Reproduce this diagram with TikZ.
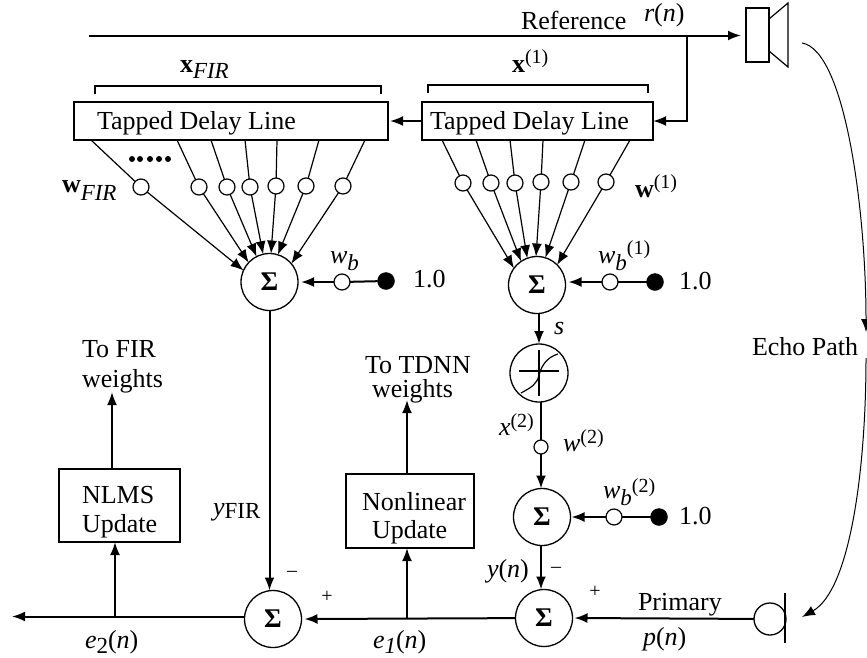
\documentclass[tikz,border=0pt]{standalone}
\usepackage{fontspec}
\setmainfont{Liberation Serif}
\usetikzlibrary{arrows.meta}
\newcommand\lowtxt[2][-7pt]{\raisebox{#1}{\fontsize{23}{23}\selectfont #2}}
\newcommand\uptxt[2][9pt]{\raisebox{#1}{\fontsize{20}{20}\selectfont #2}}
\tikzset{
  main/.style={line width=2pt},
  thin line/.style={line width=1.2pt},
  arr/.style={-{Latex[length=13pt,width=10pt]}},
  sumnode/.style={circle,draw,line width=1.3pt,minimum size=57pt,inner sep=0pt,outer sep=0pt,fill=white,font=\fontsize{27}{28}\selectfont\bfseries},
  weight/.style={circle,draw,line width=1.2pt,minimum size=16pt,inner sep=0pt,outer sep=0pt,fill=white},
  src/.style={circle,draw,fill=black,minimum size=17pt,inner sep=0pt,outer sep=0pt},
  dotn/.style={circle,fill=black,minimum size=6pt,inner sep=0pt},
  boxn/.style={rectangle,draw,line width=2pt,inner sep=0pt,outer sep=0pt,anchor=north west},
  lab/.style={inner sep=0pt,outer sep=0pt,anchor=base west},
  labc/.style={inner sep=0pt,outer sep=0pt,anchor=center}
}
\begin{document}
\begin{tikzpicture}[x=1pt,y=-1pt,font=\fontsize{26}{28}\selectfont]
\useasboundingbox (0,0) rectangle (867,657);
% boxes
\node[boxn,minimum width=314pt,minimum height=38pt] (tdl1) at (74,102) {};
\node[boxn,minimum width=231pt,minimum height=38pt] (tdl2) at (422,102) {};
\node[boxn,minimum width=121pt,minimum height=73pt] (nlms) at (59,469) {};
\node[boxn,minimum width=128pt,minimum height=74pt] (nonlin) at (346,474) {};
\node[lab] (ttdl1) at (97,129) {Tapped Delay Line};
\node[lab] (ttdl2) at (430,129) {Tapped Delay Line};
\node[lab] (tnlms1) at (82,503) {NLMS};
\node[lab] (tnlms2) at (82,532) {Update};
\node[lab] (tnl1) at (362,510) {Nonlinear};
\node[lab] (tnl2) at (372,538) {Update};
% sums
\node[sumnode] (s1) at (269.5,282) {Σ};
\node[sumnode] (s2) at (537,285) {Σ};
\node[sumnode] (s3) at (542,517) {Σ};
\node[sumnode] (s4) at (544,618) {Σ};
\node[sumnode] (s5) at (273,619) {Σ};
\node[sumnode,minimum size=58pt] (sig) at (539,373) {};
% sigmoid
\draw[main] ([xshift=-20pt,yshift=2pt]sig.center) -- ([xshift=20pt,yshift=2pt]sig.center);
\draw[main] ([yshift=-23pt]sig.center) -- ([yshift=23pt]sig.center);
\draw[thin line] (521,393) .. controls (532,387) and (537,384) .. (539,375) .. controls (542,364) and (548,357) .. (558,354);
% fan left
\coordinate (ta1) at (91,140); \coordinate (ta2) at (177,140); \coordinate (ta3) at (211,140);
\coordinate (ta4) at (245,140); \coordinate (ta5) at (277,140); \coordinate (ta6) at (319,140);
\coordinate (ta7) at (365,140);
\node[weight] (a1) at (141,187) {};
\node[weight] (a2) at (199,187) {};
\node[weight] (a3) at (227,187) {};
\node[weight] (a4) at (250,187) {};
\node[weight] (a5) at (276,186) {};
\node[weight] (a6) at (306,186) {};
\node[weight] (a7) at (343,186) {};
\foreach \i in {1,...,7} \draw[thin line] (ta\i) -- (a\i);
\foreach \i/\ang in {1/156,2/137,3/117,4/103,5/87,6/73,7/40}
  \draw[thin line,arr] (a\i) -- (s1.\ang);
% fan right
\coordinate (tb1) at (442,140); \coordinate (tb2) at (476,140); \coordinate (tb3) at (510,140);
\coordinate (tb4) at (543,140); \coordinate (tb5) at (585,140); \coordinate (tb6) at (630,140);
\node[weight] (b1) at (463,183) {};
\node[weight] (b2) at (491,183) {};
\node[weight] (b3) at (515,183) {};
\node[weight] (b4) at (541,182) {};
\node[weight] (b5) at (571,182) {};
\node[weight] (b6) at (606,182) {};
\foreach \i in {1,...,6} \draw[thin line] (tb\i) -- (b\i);
\foreach \i/\ang in {1/144,2/124,3/110,4/92,5/73,6/45}
  \draw[thin line,arr] (b\i) -- (s2.\ang);
% dots
\foreach \i/\x in {1/132,2/140,3/150,4/159,5/168} \node[dotn] (d\i) at (\x,159) {};
% brackets
\coordinate (b1l) at (95,94); \coordinate (b1r) at (381,94);
\coordinate (b2l) at (428,93); \coordinate (b2r) at (648,93);
\draw[main] (b1l) -- ++(0,-8) -| (b1r);
\draw[main] (b2l) -- ++(0,-8) -| (b2r);
% bias
\node[weight] (wb1) at (342,282) {};
\node[src] (f1) at (386,281) {};
\node[weight] (wb2) at (610,282) {};
\node[src] (f2) at (655,282) {};
\node[weight] (wb3) at (614,517) {};
\node[src] (f3) at (659,517) {};
\draw[main] (f1) -- (wb1);
\draw[main] (f2) -- (wb2);
\draw[main] (f3) -- (wb3);
\draw[main,arr] (wb1) -- ([xshift=3pt]s1.east |- wb1);
\draw[main,arr] (wb2) -- ([xshift=3pt]s2.east |- wb2);
\draw[main,arr] (wb3) -- ([xshift=1pt]s3.east);
% reference and speaker
\node[rectangle,draw,line width=2pt,minimum width=23pt,minimum height=54pt,inner sep=0pt,outer sep=0pt] (spk) at (757.5,35) {};
\draw[thin line] (spk.east |- 0,19) -- (788,3) -- (788,67) -- (spk.east |- 0,51);
\coordinate (rs) at (89,35.5);
\coordinate (br) at (687,35.5);
\draw[main,arr] (rs) -- (741,35.5);
\draw[main,arr] (br) |- (tdl2.east);
\draw[main,arr] (tdl2.west) -- ([xshift=2pt]tdl1.east);
% middle chain
\node[weight,minimum size=14pt] (w2) at (541,447) {};
\draw[main,arr] (s2.south -| 539,0) -- (sig.north);
\draw[main] (sig.south -| 541,0) -- (w2);
\draw[main,arr] (w2) -- (s3.north -| w2);
\draw[main,arr] (s3.south -| 541,0) -- (s4.north -| 541,0);
% primary & mic
\node[circle,draw,line width=1.3pt,minimum size=32pt,inner sep=0pt,outer sep=0pt] (mic) at (770,619) {};
\coordinate (mt) at (785,593); \coordinate (mb) at (785,643);
\draw[main] (mt) -- (mb);
\draw[main,arr] (mic) -- ([xshift=2pt]s4.east);
\draw[main,arr] (s4) -- ([xshift=3pt]s5.east);
\draw[main,arr] (s5.west |- 0,616.5) -- (12,616.5);
\draw[main,arr] (s1) -- (s5.north -| s1);
% updates
\coordinate (j1) at (115,616.5);
\coordinate (j2) at (407,619);
\coordinate (u1) at (112,392);
\coordinate (u2) at (407,400);
\draw[main,arr] (j1) -- (nlms.south -| j1);
\draw[main,arr] (nlms.north -| u1) -- (u1);
\draw[main,arr] (j2) -- (nonlin.south -| j2);
\draw[main,arr] (nonlin.north -| u2) -- (u2);
% echo
\coordinate (e0) at (802,43);
\coordinate (em) at (866,332);
\coordinate (en) at (866,358);
\coordinate (e1) at (802,617);
\draw[line width=1pt,-{Latex[length=13pt,width=10pt]}] (e0) .. controls (845,50) and (866,210) .. (em);
\draw[line width=1pt,-{Latex[length=13pt,width=10pt]}] (en) .. controls (866,470) and (850,590) .. (e1);
% labels
\node[lab] (lref) at (521,29) {Reference};
\node[lab] (lr) at (644,21) {\textit{r}(\textit{n})};
\node[lab] (lxf) at (180,72) {\textbf{x}\lowtxt[-6pt]{\textit{FIR}}};
\node[lab] (lx1) at (512,72) {\textbf{x}\uptxt{(1)}};
\node[lab] (lwf) at (62,192) {\textbf{w}\lowtxt[-8pt]{\textit{FIR}}};
\node[lab] (lw1) at (635,197) {\textbf{w}\uptxt{(1)}};
\node[lab] (lwb1) at (330,263) {\textit{w}\lowtxt{\textit{b}}};
\node[lab] (lwb2) at (598,263) {\textit{w}\lowtxt{\textit{b}}\uptxt[9pt]{(1)}};
\node[lab] (lwb3) at (603,498) {\textit{w}\lowtxt{\textit{b}}\uptxt[6pt]{(2)}};
\node[lab] (o1) at (413,287) {1.0};
\node[lab] (o2) at (679,289) {1.0};
\node[lab] (o3) at (679,524) {1.0};
\node[lab] (ls) at (554,334) {\textit{s}};
\node[lab] (lf1) at (82,357) {To FIR};
\node[lab] (lf2) at (82,387) {weights};
\node[lab] (lt1) at (365,373) {To TDNN};
\node[lab] (lt2) at (372,397) {weights};
\node[lab] (ly) at (213,515) {\textit{y}\lowtxt[-3pt]{FIR}};
\node[lab] (lx2) at (499,435) {\textit{x}\uptxt[8pt]{(2)}};
\node[lab] (lw2) at (563,451) {\textit{w}\uptxt[8pt]{(2)}};
\node[lab] (lyn) at (487,577) {\textit{y}(\textit{n})};
\node[labc,font=\fontsize{20}{20}\selectfont] (m1) at (556,570) {–};
\node[labc,font=\fontsize{20}{20}\selectfont] (p1) at (595,592) {+};
\node[labc,font=\fontsize{20}{20}\selectfont] (m2) at (292,574) {–};
\node[labc,font=\fontsize{20}{20}\selectfont] (p2) at (327,597) {+};
\node[lab] (lpr) at (638,610) {Primary};
\node[lab] (lp) at (643,645) {\textit{p}(\textit{n})};
\node[lab] (le2) at (85,648) {\textit{e}\lowtxt[-5pt]{2}(\textit{n})};
\node[lab] (le1) at (373,648) {\textit{e}\lowtxt[-5pt]{\textit{1}}(\textit{n})};
\node[lab] (lep) at (752,355) {Echo Path};
\end{tikzpicture}
\end{document}
